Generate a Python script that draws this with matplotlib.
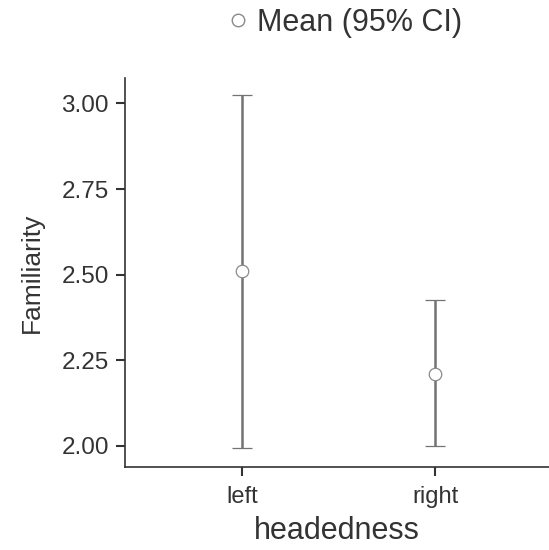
import matplotlib
matplotlib.use("Agg")
import matplotlib.pyplot as plt
from matplotlib.lines import Line2D

plt.rcParams['font.family'] = ['Liberation Sans', 'DejaVu Sans']

# data
groups = ['left', 'right']
means = [2.509, 2.209]
ci_low = [1.993, 2.000]
ci_high = [3.024, 2.425]

fig = plt.figure(figsize=(5.49, 5.5), dpi=100)
ax = fig.add_axes([0.2277, 0.151, 0.7723, 0.707])

xs = list(range(len(groups)))
yerr = [[m - lo for m, lo in zip(means, ci_low)],
        [hi - m for m, hi in zip(means, ci_high)]]
ax.errorbar(xs, means, yerr=yerr, fmt='o', color='#737373', ecolor='#737373',
            elinewidth=1.8, capsize=7, capthick=1.8, markersize=9,
            markerfacecolor='white', markeredgecolor='#8a8a8a', markeredgewidth=0.9)

ax.set_xlim(-0.606, 1.59)
ax.set_ylim(1.938, 3.074)
ax.set_xticks(xs)
ax.set_xticklabels(groups)
ax.set_yticks([2.00, 2.25, 2.50, 2.75, 3.00])
ax.set_yticklabels(['2.00', '2.25', '2.50', '2.75', '3.00'])

for s in ['top', 'right']:
    ax.spines[s].set_visible(False)
for s in ['left', 'bottom']:
    ax.spines[s].set_color('#333333')
    ax.spines[s].set_linewidth(1.2)
ax.tick_params(colors='#333333', length=6.5, width=1.5)
ax.tick_params(axis='y', labelsize=17.5, pad=5)
ax.tick_params(axis='x', labelsize=17, pad=7)

ax.set_xlabel('headedness', fontsize=22, color='#333333', labelpad=6)
ax.set_ylabel('Familiarity', fontsize=19, color='#333333', labelpad=13)

handle = Line2D([], [], linestyle='none', marker='o', markersize=9,
                markerfacecolor='white', markeredgecolor='#8a8a8a')
fig.legend([handle], ['Mean (95% CI)'], loc='center', bbox_to_anchor=(0.625, 0.958),
           frameon=False, fontsize=22, handletextpad=0.15, handlelength=0.9,
           labelcolor='#333333')

fig.savefig('out.png', dpi=100)
